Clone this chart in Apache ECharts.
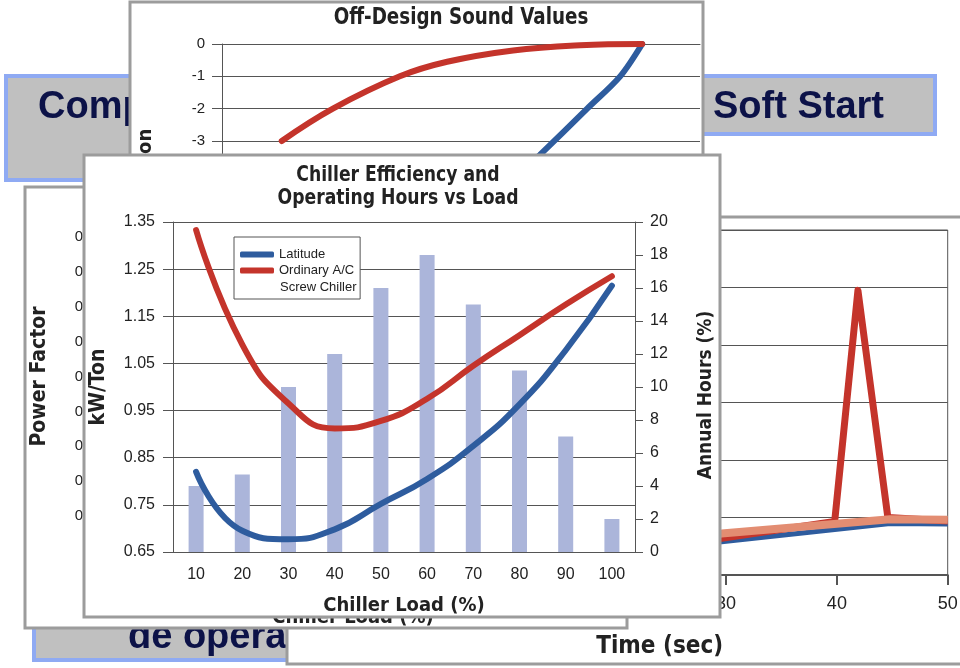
<!DOCTYPE html>
<html><head><meta charset="utf-8">
<script src="https://cdn.jsdelivr.net/npm/echarts@6/dist/echarts.min.js"></script>
<style>html,body{margin:0;padding:0;background:#fff}#c{width:960px;height:668px}</style>
</head><body><div id="c"></div>
<script>
// ---------- data ----------
// Front chart: Chiller Efficiency and Operating Hours vs Load
const loadCategories = ['10','20','30','40','50','60','70','80','90','100'];
const annualHoursPct = [4, 4.7, 10, 12, 16, 18, 15, 11, 7, 2];
const latitudeKwTon  = [0.82, 0.695, 0.677, 0.698, 0.752, 0.805, 0.875, 0.963, 1.078, 1.215];
const ordinaryKwTon  = [1.333, 1.09, 0.965, 0.912, 0.928, 0.975, 1.045, 1.11, 1.175, 1.235];

// Back chart: Off-Design Sound Values
const soundRedLoad  = [12.5, 23.2, 37.2, 47.1, 60.9, 74.9, 87.9];
const soundRedDb    = [-3, -2, -1, -0.55, -0.2, -0.04, 0];
const soundBlueLoad = [61, 66.5, 76.4, 83.3, 87.9];
const soundBlueDb   = [-4.2, -3.43, -2, -1, 0];

// Back chart: Time (sec)
const timeBlueSec   = [25, 29.6, 44.8, 50];
const timeBlueVal   = [47, 58, 89.5, 88.5];
const timeRedSec    = [25, 29.6, 39.8, 41.9, 44.6, 50];
const timeRedVal    = [53, 64, 93, 495, 100, 94];
const timeSoftSec   = [25, 29.6, 44.8, 50];
const timeSoftVal   = [62, 72, 97, 96];

// Back chart: Power Factor (only tick labels visible)
const pfCategories = loadCategories;

// Banner texts
const bannerLeftText  = 'Comparación';
const bannerRightText = 'Soft Start';
const bannerBottomText = 'de operación';

// ---------- styling ----------
const NARROW = '"Liberation Sans Narrow","DejaVu Sans Condensed","Arial Narrow",sans-serif';
const SANS = '"Liberation Sans",Arial,Helvetica,sans-serif';
const GRID_C = '#555';
const TXT = '#222';
const NAVY = '#0c1248';
const zip = (a, b) => a.map((v, i) => [v, b[i]]);
const nameStyle = (size) => ({fontFamily: NARROW, fontWeight: 'bold', fontSize: size, color: TXT});
const panel = (x, y, w, h, zl) => ({type: 'rect', silent: true, zlevel: zl, z: 0,
  shape: {x: x, y: y, width: w, height: h}, style: {fill: '#fff', stroke: '#9c9c9c', lineWidth: 3}});
const banner = (x, y, w, h) => ({type: 'rect', silent: true, zlevel: 0, z: 1,
  shape: {x: x, y: y, width: w, height: h}, style: {fill: '#c0c0c0', stroke: '#8faaf3', lineWidth: 4}});
const txt = (text, x, y, font, zl, align, extra, fill) => Object.assign({type: 'text', silent: true, zlevel: zl, z: 20, x: x, y: y,
  style: {text: text, font: font, fill: fill || TXT, align: align || 'left', verticalAlign: 'middle'}}, extra || {});

const chart = echarts.init(document.getElementById('c'), null, {renderer: 'canvas'});

const option = {
  animation: false,
  backgroundColor: '#fff',
  textStyle: {fontFamily: SANS},
  graphic: {elements: [
    // layer 0: slide banners
    banner(6, 76, 520, 104),
    banner(420, 76, 515, 58),
    banner(34, 540, 420, 120),
    txt(bannerLeftText, 38, 107.5, 'bold 38px ' + SANS, 0, 'left', {z: 2}, NAVY),
    txt(bannerRightText, 713, 108, 'bold 38px ' + SANS, 0, 'left', {z: 2}, NAVY),
    txt(bannerBottomText, 128, 637.5, 'bold 38px ' + SANS, 0, 'left', {z: 2}, NAVY),
    // layer 1: Off-Design panel
    panel(130, 2, 573, 420, 1),
    txt('Off-Design Sound Values', 461, 18.5, 'bold 23px ' + NARROW, 1, 'center', {scaleX: 0.885}),
    // layer 2: Time panel
    panel(287, 217, 800, 447, 2),
    // layer 3: Power Factor panel
    panel(25, 187, 602, 441, 3),
    // layer 4: Chiller panel
    panel(84, 155, 636, 462, 4),
    txt('Chiller Efficiency and', 398, 175, 'bold 22px ' + NARROW, 4, 'center', {scaleX: 0.87}),
    txt('Operating Hours vs Load', 398, 198, 'bold 22px ' + NARROW, 4, 'center', {scaleX: 0.87}),
    txt('Screw Chiller', 280, 287, '13px ' + SANS, 4, 'left', {z: 30})
  ]},
  legend: {
    zlevel: 4, z: 25, left: 234, top: 237, orient: 'vertical',
    data: ['Latitude', 'Ordinary A/C'], icon: 'roundRect', itemWidth: 34, itemHeight: 6, itemGap: 3,
    padding: [11, 6, 22, 6], borderColor: '#555', borderWidth: 1, backgroundColor: '#fff',
    textStyle: {fontSize: 13, color: TXT, fontFamily: SANS}, selectedMode: false
  },
  grid: [
    {left: 222, top: 44, width: 478, height: 323.3, zlevel: 1, z: 1, outerBoundsMode: 'none'},
    {left: 393.6, top: 230, width: 554.1, height: 345, zlevel: 2, z: 1, show: true, borderColor: GRID_C, borderWidth: 1, backgroundColor: 'transparent', outerBoundsMode: 'none'},
    {left: 112, top: 237, width: 482, height: 279, zlevel: 3, z: 1, outerBoundsMode: 'none'},
    {left: 173, top: 222, width: 462, height: 330, zlevel: 4, z: 1, outerBoundsMode: 'none'}
  ],
  xAxis: [
    {gridIndex: 0, type: 'value', min: 0, max: 100, zlevel: 1, z: 2,
      axisLabel: {show: false}, axisTick: {show: false}, splitLine: {show: false},
      axisLine: {lineStyle: {color: GRID_C}}},
    {gridIndex: 1, type: 'value', min: 0, max: 50, interval: 10, zlevel: 2, z: 2,
      name: 'Time (sec)', nameLocation: 'middle', nameGap: 60,
      nameTextStyle: Object.assign(nameStyle(24), {padding: [0, 22, 0, 0]}),
      axisLine: {lineStyle: {color: GRID_C, width: 2}},
      axisTick: {length: 10, lineStyle: {color: GRID_C, width: 2}},
      axisLabel: {fontSize: 18, color: TXT, margin: 20}, splitLine: {show: false}},
    {gridIndex: 2, type: 'category', data: pfCategories, zlevel: 3, z: 2,
      name: 'Chiller Load (%)', nameLocation: 'middle', nameGap: 92, nameTextStyle: nameStyle(20),
      axisLine: {lineStyle: {color: GRID_C}}, axisTick: {length: 10, lineStyle: {color: GRID_C}},
      axisLabel: {fontSize: 16, color: TXT}},
    {gridIndex: 3, type: 'category', data: loadCategories, zlevel: 4, z: 2,
      name: 'Chiller Load (%)', nameLocation: 'middle', nameGap: 44, nameTextStyle: nameStyle(20),
      axisLine: {lineStyle: {color: GRID_C}},
      axisTick: {length: 10, interval: 0, lineStyle: {color: GRID_C}},
      axisLabel: {fontSize: 16, color: TXT, margin: 15, interval: 0}}
  ],
  yAxis: [
    {gridIndex: 0, type: 'value', min: -10, max: 0, interval: 1, zlevel: 1, z: 2,
      name: 'dB Attenuation', nameLocation: 'middle', nameGap: 66, nameTextStyle: nameStyle(20),
      axisLine: {show: true, lineStyle: {color: GRID_C}},
      axisTick: {show: true, length: 10, lineStyle: {color: GRID_C}},
      axisLabel: {fontSize: 15, color: TXT, margin: 17},
      splitLine: {show: true, lineStyle: {color: GRID_C}}},
    {gridIndex: 1, type: 'value', min: 0, max: 600, interval: 100, zlevel: 2, z: 2,
      axisLine: {show: true, lineStyle: {color: GRID_C}},
      axisTick: {show: true, length: 10, lineStyle: {color: GRID_C}},
      axisLabel: {fontSize: 18, color: TXT},
      splitLine: {show: true, lineStyle: {color: GRID_C}}},
    {gridIndex: 2, type: 'value', min: 0.55, max: 0.95, interval: 0.05, zlevel: 3, z: 2,
      name: 'Power Factor', nameLocation: 'middle', nameGap: 62, nameTextStyle: nameStyle(21),
      axisLine: {show: true, lineStyle: {color: GRID_C}},
      axisTick: {show: true, length: 8, lineStyle: {color: GRID_C}},
      axisLabel: {fontSize: 15, color: TXT, margin: 8, formatter: v => v.toFixed(2)},
      splitLine: {show: true, lineStyle: {color: GRID_C}}},
    {gridIndex: 3, type: 'value', min: 0.65, max: 1.35, interval: 0.1, zlevel: 4, z: 2,
      name: 'kW/Ton', nameLocation: 'middle', nameGap: 64, nameTextStyle: nameStyle(21),
      axisLine: {show: true, lineStyle: {color: GRID_C}},
      axisTick: {show: true, length: 10, lineStyle: {color: GRID_C}},
      axisLabel: {fontSize: 16, color: TXT, margin: 18, formatter: v => v.toFixed(2)},
      splitLine: {show: true, lineStyle: {color: GRID_C}}},
    {gridIndex: 3, type: 'value', position: 'right', min: 0, max: 20, interval: 2, zlevel: 4, z: 2,
      name: 'Annual Hours (%)', nameLocation: 'middle', nameGap: 62,
      nameTextStyle: Object.assign(nameStyle(19), {padding: [0, 16, 0, 0]}),
      axisLine: {show: true, lineStyle: {color: GRID_C}},
      axisTick: {show: true, length: 8, lineStyle: {color: GRID_C}},
      axisLabel: {fontSize: 16, color: TXT, margin: 15},
      splitLine: {show: false}}
  ],
  series: [
    // Off-Design Sound Values
    {name: 'Latitude sound', type: 'line', xAxisIndex: 0, yAxisIndex: 0, zlevel: 1, z: 3, silent: true,
      data: zip(soundBlueLoad, soundBlueDb), smooth: 0.3, symbol: 'none',
      itemStyle: {color: '#2e5c9e'}, lineStyle: {color: '#2e5c9e', width: 6, cap: 'round'}},
    {name: 'Ordinary sound', type: 'line', xAxisIndex: 0, yAxisIndex: 0, zlevel: 1, z: 4, silent: true,
      data: zip(soundRedLoad, soundRedDb), smooth: 0.4, symbol: 'none',
      itemStyle: {color: '#c4342b'}, lineStyle: {color: '#c4342b', width: 6, cap: 'round'}},
    // Time chart
    {name: 'Blue time', type: 'line', xAxisIndex: 1, yAxisIndex: 1, zlevel: 2, z: 3, silent: true,
      data: zip(timeBlueSec, timeBlueVal), symbol: 'none',
      lineStyle: {color: '#2e5c9e', width: 5}},
    {name: 'Red time', type: 'line', xAxisIndex: 1, yAxisIndex: 1, zlevel: 2, z: 4, silent: true,
      data: zip(timeRedSec, timeRedVal), symbol: 'none',
      lineStyle: {color: '#c4342b', width: 7, join: 'round'}},
    {name: 'Soft time', type: 'line', xAxisIndex: 1, yAxisIndex: 1, zlevel: 2, z: 5, silent: true,
      data: zip(timeSoftSec, timeSoftVal), symbol: 'none',
      lineStyle: {color: '#e38d72', width: 8}},
    // Power Factor chart (axes only)
    {name: 'PF', type: 'line', xAxisIndex: 2, yAxisIndex: 2, zlevel: 3, z: 3, silent: true, data: []},
    // Chiller chart
    {name: 'Annual Hours', type: 'bar', xAxisIndex: 3, yAxisIndex: 4, zlevel: 4, z: 3, silent: true,
      data: annualHoursPct, barWidth: 15, itemStyle: {color: '#abb5da'}},
    {name: 'Latitude', type: 'line', xAxisIndex: 3, yAxisIndex: 3, zlevel: 4, z: 4, silent: true,
      data: latitudeKwTon, smooth: 0.5, symbol: 'none',
      itemStyle: {color: '#2e5c9e'}, lineStyle: {color: '#2e5c9e', width: 6, cap: 'round'}},
    {name: 'Ordinary A/C', type: 'line', xAxisIndex: 3, yAxisIndex: 3, zlevel: 4, z: 5, silent: true,
      data: ordinaryKwTon, smooth: 0.5, symbol: 'none',
      itemStyle: {color: '#c4342b'}, lineStyle: {color: '#c4342b', width: 6, cap: 'round'}}
  ]
};
chart.setOption(option);
</script>
</body></html>
